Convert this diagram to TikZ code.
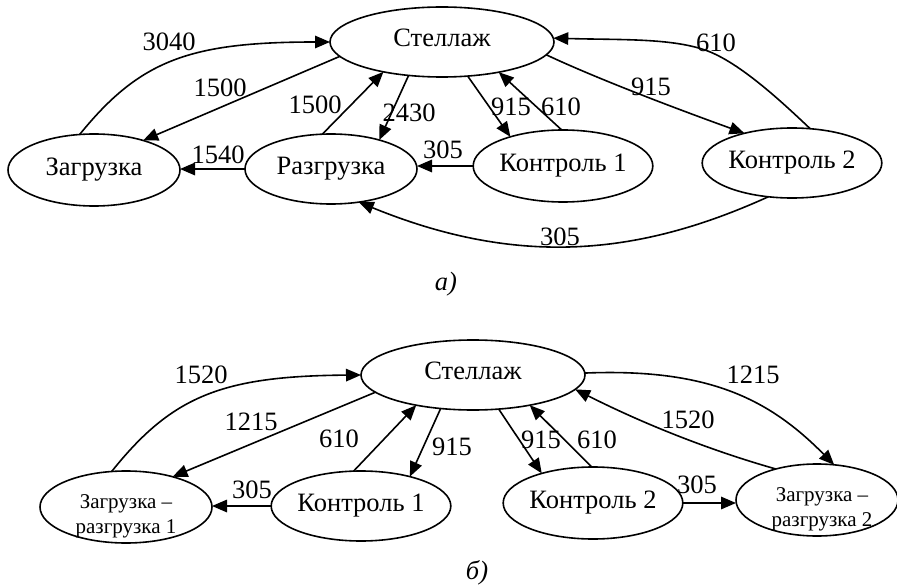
\documentclass[tikz,border=0pt]{standalone}
\usepackage{fontspec}
\setmainfont{Liberation Serif}
\usetikzlibrary{shapes.geometric,arrows.meta}
\begin{document}
\begin{tikzpicture}[x=1pt,y=-1pt,
  every node/.style={font=\fontsize{26.5}{31}\selectfont},
  ell/.style={ellipse, draw, line width=1.6pt, inner sep=0pt, outer sep=0pt},
  rack/.style={ell, minimum width=224pt, minimum height=70pt, text depth=9pt},
  small/.style={font=\fontsize{21}{25}\selectfont, align=center, inner sep=0pt},
  arr/.style={-{Triangle[length=15pt,width=12.5pt]}, line width=1.6pt},
  lbl/.style={inner sep=0pt},
  capt/.style={inner sep=0pt, font=\fontsize{26.5}{31}\selectfont\itshape}]
\useasboundingbox (0,0) rectangle (897,588);

% ---------- scheme a ----------
\node[rack] (st)  at (442,42)  {Стеллаж};
\node[ell, minimum width=172pt, minimum height=72pt] (zag) at (94,170)  {Загрузка};
\node[ell, minimum width=172pt, minimum height=70pt] (raz) at (331,169) {Разгрузка};
\node[ell, minimum width=172pt, minimum height=72pt] (k1)  at (563,166) {Контроль 1};
\node[ell, minimum width=170pt, minimum height=70pt] (k2)  at (792,163) {Контроль 2};

\draw[arr] (zag.112) .. controls (140,60) and (190,42) .. (st.180);
\draw[arr] (st.188) -- (zag.31);
\draw[arr] (raz.104) -- (st.207);
\draw[arr] (st.225) -- (raz.31);
\draw[arr] (raz.west) -- (raz.west -| zag.east);
\draw[arr] (k1.west) -- (k1.west -| raz.east);
\draw[arr] (k2.235) .. controls (640,255) and (520,268) .. (raz.310);
\draw[arr] (st.307) -- (k1.151);
\draw[arr] (k1.92) -- (st.332);
\draw[arr] (st.353) .. controls (600,80) and (680,110) .. (k2.148);
\draw[arr] (k2.62) .. controls (785,105) and (740,62) .. (705,50)
                   .. controls (670,38) and (620,40) .. (st.2);

\node[lbl] (a3040) at (169,42)  {3040};
\node[lbl] (a1500a) at (220,88) {1500};
\node[lbl] (a1500b) at (315,105) {1500};
\node[lbl] (a2430) at (409,113) {2430};
\node[lbl] (a1540) at (218,155) {1540};
\node[lbl] (a305a) at (443,150) {305};
\node[lbl] (a305b) at (560,237) {305};
\node[lbl] (a915a) at (511,107) {915};
\node[lbl] (a610a) at (561,107) {610};
\node[lbl] (a915b) at (651,87)  {915};
\node[lbl] (a610b) at (716,43)  {610};

\node[capt] (capa) at (446,284) {а)};

% ---------- scheme b ----------
\node[rack] (st2) at (473,375) {Стеллаж};
\node[ell, minimum width=172pt, minimum height=72pt] (z1)  at (126,507) {};
\node[ell, minimum width=170pt, minimum height=70pt] (c1)  at (361,506) {Контроль 1};
\node[ell, minimum width=170pt, minimum height=72pt] (c2)  at (593,503) {Контроль 2};
\node[ell, minimum width=162pt, minimum height=72pt] (z2)  at (817,500) {};
\node[small] (z1t) at (126,516) {Загрузка –\\разгрузка 1};
\node[small] (z2t) at (822,509) {Загрузка –\\разгрузка 2};

\draw[arr] (z1.112) .. controls (172,396) and (222,376) .. (st2.180);
\draw[arr] (st2.190) -- (z1.33);
\draw[arr] (c1.102) -- (st2.208);
\draw[arr] (st2.226) -- (c1.31);
\draw[arr] (c1.west) -- (c1.west -| z1.east);
\draw[arr] (st2.307) -- (c2.150);
\draw[arr] (c2.92) -- (st2.332);
\draw[arr] (c2.east) -- (c2.east -| z2.west);
\draw[arr] (st2.1) .. controls (710,368) and (770,400) .. (z2.64);
\draw[arr] (z2.143) .. controls (709,450) and (644,424) .. (st2.352);

\node[lbl] (b1520a) at (201,375) {1520};
\node[lbl] (b1215a) at (251,422) {1215};
\node[lbl] (b610a)  at (339,439) {610};
\node[lbl] (b915a)  at (452,447) {915};
\node[lbl] (b305a)  at (252,490) {305};
\node[lbl] (b915b)  at (541,440) {915};
\node[lbl] (b610b)  at (597,440) {610};
\node[lbl] (b305b)  at (697,485) {305};
\node[lbl] (b1215b) at (753,375) {1215};
\node[lbl] (b1520b) at (688,420) {1520};

\node[capt] (capb) at (477,573) {б)};
\end{tikzpicture}
\end{document}
